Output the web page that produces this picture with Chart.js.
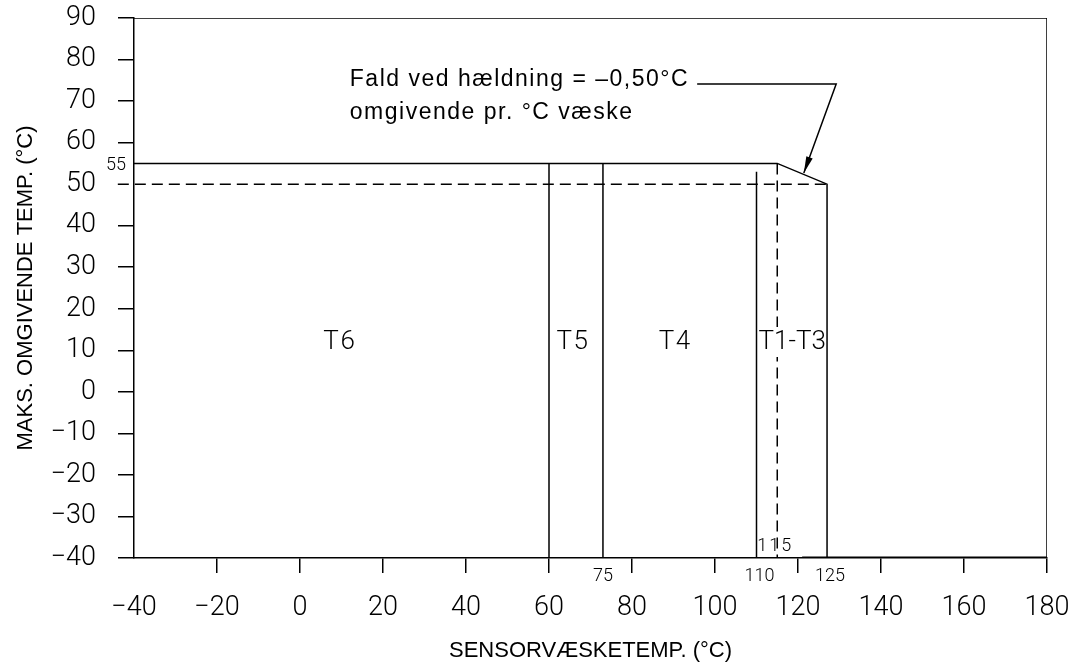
<!DOCTYPE html>
<html>
<head>
<meta charset="utf-8">
<script src="https://cdn.jsdelivr.net/npm/chart.js@4.4.1/dist/chart.umd.min.js"></script>
<style>
  html, body { margin: 0; padding: 0; background: #fff; }
  #wrap { width: 1078px; height: 670px; position: relative; }
</style>
</head>
<body>
<div id="wrap"><canvas id="chart"></canvas></div>
<script>
// axis ranges and ticks
const xTicks = [-40, -20, 0, 20, 40, 60, 80, 100, 120, 140, 160, 180];
const yTicks = [-40, -30, -20, -10, 0, 10, 20, 30, 40, 50, 60, 70, 80, 90];

// temperature class envelope (sensor temp, max ambient temp)
const envelopeX = [-40, 115, 127, 127];
const envelopeY = [55, 55, 50, -40];
const derateX = [-43.9, 127];
const derateY = [50, 50];

// class boundaries: x, top y
const boundX = [60, 73, 110];
const boundTop = [55, 55, 53];
const dashBoundX = 115;

// zone labels
const zoneLabels = ['T6', 'T5', 'T4', 'T1-T3'];
const zoneX = [9.6, 65.8, 90.4, 118.6];
const zoneY = 12;

// slope note + leader
const noteLines = ['Fald ved h\u00e6ldning = \u20130,50\u00b0C', 'omgivende pr. \u00b0C v\u00e6ske'];
const noteX = 12.0;
const noteY = [75.1, 67.1];
const leaderX = [95.7, 129.2, 121.4];
const leaderY = [74.1, 74.1, 52.7];

const toPts = (xs, ys) => xs.map((x, i) => ({ x: x, y: ys[i] }));
const minus = v => (v < 0 ? '\u2212' + Math.abs(v) : String(v));

const black = '#000';
const lw = 1.5;

const lineDs = (data, extra) => Object.assign({
  data: data,
  showLine: true,
  borderColor: black,
  borderWidth: lw,
  pointRadius: 0,
  fill: false,
  tension: 0
}, extra || {});

const datasets = [
  lineDs(toPts([-40, 180, 180], [90, 90, -40])),
  lineDs(toPts(envelopeX, envelopeY)),
  lineDs(toPts(derateX, derateY), { borderDash: [11, 6], clip: false }),
  lineDs(toPts([dashBoundX, dashBoundX], [55, -40]), { borderDash: [11, 6] }),
  lineDs(toPts([121, 180], [-40, -40]), { borderWidth: 3 }),
  lineDs(toPts(leaderX, leaderY))
];
boundX.forEach((bx, i) => {
  datasets.push(lineDs(toPts([bx, bx], [boundTop[i], -40])));
});

const notesPlugin = {
  id: 'notes',
  afterDatasetsDraw(chart) {
    const { ctx, scales: { x, y }, chartArea: a } = chart;
    ctx.save();
    ctx.fillStyle = black;

    // gap in the dashed 115 line behind the T1-T3 label
    const zy = y.getPixelForValue(zoneY);
    ctx.fillStyle = '#fff';
    ctx.fillRect(x.getPixelForValue(dashBoundX) - 5, zy - 15, 10, 30);
    ctx.fillStyle = black;

    // zone labels
    ctx.font = '300 26px Roboto, "DejaVu Sans", sans-serif';
    ctx.textAlign = 'center';
    ctx.textBaseline = 'middle';
    zoneLabels.forEach((t, i) => {
      ctx.letterSpacing = i === 3 ? '0px' : '1.5px';
      ctx.fillText(t, x.getPixelForValue(zoneX[i]), zy);
    });
    ctx.letterSpacing = '0px';

    // small dimension labels
    ctx.font = '300 18px Roboto, "DejaVu Sans", sans-serif';
    ctx.fillText('55', a.left - 18, y.getPixelForValue(55) + 2);
    ctx.fillText('75', x.getPixelForValue(73), a.bottom + 18);
    ctx.fillText('110', x.getPixelForValue(110) + 3, a.bottom + 18);
    ctx.fillText('125', x.getPixelForValue(127) + 3, a.bottom + 18);
    ctx.fillStyle = '#fff';
    ctx.fillText('115', x.getPixelForValue(dashBoundX) - 3, a.bottom - 12);
    ctx.fillStyle = black;
    ctx.letterSpacing = '2px';
    ctx.fillText('115', x.getPixelForValue(dashBoundX) - 2, a.bottom - 12);
    ctx.letterSpacing = '0px';

    // slope note
    ctx.font = '23px "Liberation Sans", Arial, sans-serif';
    ctx.textAlign = 'left';
    ctx.letterSpacing = '1.5px';
    noteLines.forEach((t, i) => {
      ctx.fillText(t, x.getPixelForValue(noteX), y.getPixelForValue(noteY[i]));
    });
    ctx.letterSpacing = '0px';

    // arrow head at end of leader
    const n = leaderX.length;
    const tx = x.getPixelForValue(leaderX[n - 1]), ty = y.getPixelForValue(leaderY[n - 1]);
    const fx = x.getPixelForValue(leaderX[n - 2]), fy = y.getPixelForValue(leaderY[n - 2]);
    const ang = Math.atan2(ty - fy, tx - fx);
    const len = 17, half = 0.2;
    ctx.beginPath();
    ctx.moveTo(tx, ty);
    ctx.lineTo(tx - len * Math.cos(ang - half), ty - len * Math.sin(ang - half));
    ctx.lineTo(tx - len * Math.cos(ang + half), ty - len * Math.sin(ang + half));
    ctx.closePath();
    ctx.fill();

    // axis titles
    ctx.font = '22px "Liberation Sans", Arial, sans-serif';
    ctx.textAlign = 'center';
    ctx.fillText('SENSORV\u00c6SKETEMP. (\u00b0C)', (a.left + a.right) / 2, 651);
    ctx.translate(26, (a.top + a.bottom) / 2);
    ctx.rotate(-Math.PI / 2);
    ctx.fillText('MAKS. OMGIVENDE TEMP. (\u00b0C)', 0, 0);
    ctx.restore();
  }
};

const tickFont = { family: 'Roboto, "DejaVu Sans", sans-serif', size: 27, weight: 300 };

new Chart(document.getElementById('chart'), {
  type: 'scatter',
  data: { datasets: datasets },
  options: {
    responsive: true,
    maintainAspectRatio: false,
    animation: false,
    layout: { padding: { left: 0, top: 18, right: 31, bottom: 0 } },
    plugins: { legend: { display: false }, tooltip: { enabled: false } },
    scales: {
      x: {
        type: 'linear',
        min: -40,
        max: 180,
        afterBuildTicks: s => { s.ticks = xTicks.map(v => ({ value: v })); },
        afterFit: s => { s.height = 112; s.paddingLeft = 0; s.paddingRight = 0; },
        border: { display: true, color: black, width: lw },
        grid: {
          drawOnChartArea: false,
          drawTicks: true,
          tickLength: 15,
          lineWidth: lw,
          tickColor: c => (c.tick && c.tick.value === -40 ? 'rgba(0,0,0,0)' : black)
        },
        ticks: { color: black, font: tickFont, padding: 19, maxRotation: 0, callback: v => minus(v) }
      },
      y: {
        type: 'linear',
        min: -40,
        max: 90,
        afterBuildTicks: s => { s.ticks = yTicks.map(v => ({ value: v })); },
        afterFit: s => { s.width = 134; s.paddingTop = 0; s.paddingBottom = 0; },
        border: { display: true, color: black, width: lw },
        grid: {
          drawOnChartArea: false,
          drawTicks: true,
          tickLength: 16,
          lineWidth: lw,
          tickColor: c => (c.tick && c.tick.value === 50 ? 'rgba(0,0,0,0)' : black)
        },
        ticks: { color: black, font: tickFont, padding: 22, callback: v => minus(v) }
      }
    }
  },
  plugins: [notesPlugin]
});
</script>
</body>
</html>
